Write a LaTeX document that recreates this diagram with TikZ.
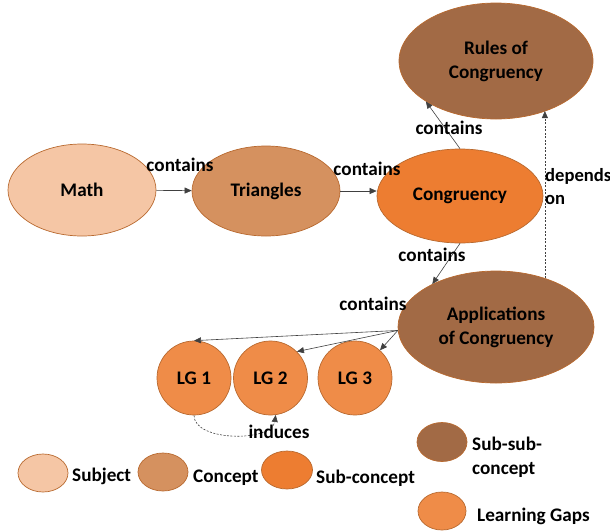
\documentclass[tikz,border=0pt]{standalone}
\usepackage{fontspec}
\setmainfont{Carlito}
\usetikzlibrary{shapes.geometric,arrows.meta}
\definecolor{cMath}{HTML}{F5C6A5}
\definecolor{cTri}{HTML}{D5915F}
\definecolor{cCong}{HTML}{ED7D31}
\definecolor{cBrown}{HTML}{A26A45}
\definecolor{cLG}{HTML}{EF8C48}
\definecolor{cEdge}{HTML}{B8692F}
\definecolor{cLine}{HTML}{404040}
\tikzset{
  txt/.style={font=\fontsize{19.2}{24}\selectfont\bfseries, align=center},
  blob/.style={ellipse, draw=cEdge, line width=0.7pt, inner sep=0pt, txt},
  lgc/.style={circle, draw=cEdge, line width=0.7pt, fill=cLG, inner sep=0pt, minimum size=74pt, txt},
  lbl/.style={txt, inner sep=0pt},
  conn/.style={draw=cLine, line width=0.6pt, -{Triangle[width=6pt,length=7pt]}},
  dconn/.style={conn, dashed, dash pattern=on 2pt off 1.5pt}
}
\begin{document}
\begin{tikzpicture}[x=1pt,y=-1pt]
\useasboundingbox (0,0) rectangle (610,531);
% main nodes
\node[blob, fill=cMath, minimum width=148pt, minimum height=92pt] (Math) at (82,190) {Math};
\node[blob, fill=cTri, minimum width=148pt, minimum height=90pt] (Triangles) at (266,191) {Triangles};
\node[blob, fill=cCong, minimum width=166pt, minimum height=94pt] (Congruency) at (460,196) {Congruency};
\node[blob, fill=cBrown, minimum width=194pt, minimum height=116pt] (Rules) at (496,61) {Rules of\\Congruency};
\node[blob, fill=cBrown, minimum width=196pt, minimum height=112pt] (Applications) at (496,327) {Applications\\of Congruency};
\node[lgc] (LG1) at (194,378) {LG 1};
\node[lgc] (LG2) at (270.5,378) {LG 2};
\node[lgc] (LG3) at (355,378) {LG 3};
% connectors
\draw[conn] (Math) -- (Triangles);
\draw[conn] (Triangles.east) -- (Congruency.west |- Triangles.east);
\draw[conn] (Congruency.north) -- (Rules.210);
\draw[conn] (Congruency.south) -- (Applications.146);
\draw[dconn] (Applications.45) -- (Applications.45 |- Rules.-45);
\coordinate (AppW) at (Applications.182);
\draw[conn] (AppW) -- (LG1.north);
\draw[conn] (AppW) -- (LG2.45);
\draw[conn] (AppW) -- (LG3);
\draw[dconn] (LG1.south) .. controls (194,442) and (272,442) .. (LG2.-82);
% labels
\node[lbl] (l1) at (180,165) {contains};
\node[lbl] (l2) at (367,169) {contains};
\node[lbl] (l3) at (449,128) {contains};
\node[lbl] (l4) at (432,255) {contains};
\node[lbl] (l5) at (373,304) {contains};
\node[lbl, anchor=west, align=left, font=\fontsize{18.6}{23}\selectfont\bfseries] (l6) at (545,187) {depends\\on};
\node[lbl] (l7) at (279,432) {induces};
% legend
\node[blob, fill=cMath, minimum width=50pt, minimum height=38pt] (kSub) at (43,473) {};
\node[lbl, anchor=west] (tSub) at (72,476) {Subject};
\node[blob, fill=cTri, minimum width=50pt, minimum height=38pt] (kCon) at (163,472) {};
\node[lbl, anchor=west] (tCon) at (193,478) {Concept};
\node[blob, fill=cCong, minimum width=51pt, minimum height=38pt] (kSc) at (287,470) {};
\node[lbl, anchor=west] (tSc) at (316,478) {Sub-concept};
\node[blob, fill=cBrown, minimum width=50pt, minimum height=39pt] (kSsc) at (442,442) {};
\node[lbl, anchor=west, align=left] (tSsc) at (472,457) {Sub-sub-\\concept};
\node[blob, fill=cLG, minimum width=48pt, minimum height=38pt] (kLG) at (442,511) {};
\node[lbl, anchor=west] (tLG) at (477,516) {Learning Gaps};
\end{tikzpicture}
\end{document}
